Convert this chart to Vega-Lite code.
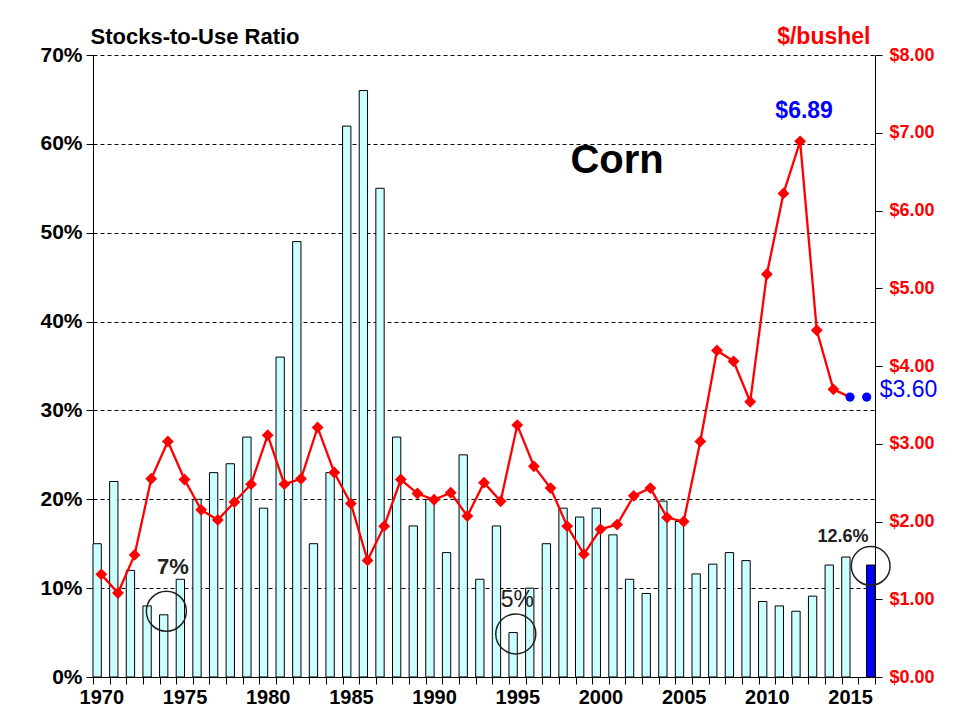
{
  "$schema": "https://vega.github.io/schema/vega-lite/v6.json",
  "width": 782,
  "height": 622,
  "autosize": {"type": "none"},
  "padding": {"left": 93, "top": 55, "right": 86, "bottom": 50},
  "background": "white",
  "config": {"font": "Liberation Sans", "view": {"stroke": null}},
  "datasets": {
    "corn": [
      {"year": 1970, "stu": 15, "price": 1.32},
      {"year": 1971, "stu": 22, "price": 1.08},
      {"year": 1972, "stu": 12, "price": 1.57},
      {"year": 1973, "stu": 8, "price": 2.55},
      {"year": 1974, "stu": 7, "price": 3.03},
      {"year": 1975, "stu": 11, "price": 2.54},
      {"year": 1976, "stu": 20, "price": 2.15},
      {"year": 1977, "stu": 23, "price": 2.02},
      {"year": 1978, "stu": 24, "price": 2.25},
      {"year": 1979, "stu": 27, "price": 2.48},
      {"year": 1980, "stu": 19, "price": 3.11},
      {"year": 1981, "stu": 36, "price": 2.48},
      {"year": 1982, "stu": 49, "price": 2.55},
      {"year": 1983, "stu": 15, "price": 3.21},
      {"year": 1984, "stu": 23, "price": 2.63},
      {"year": 1985, "stu": 62, "price": 2.23},
      {"year": 1986, "stu": 66, "price": 1.5},
      {"year": 1987, "stu": 55, "price": 1.94},
      {"year": 1988, "stu": 27, "price": 2.54},
      {"year": 1989, "stu": 17, "price": 2.36},
      {"year": 1990, "stu": 20, "price": 2.28},
      {"year": 1991, "stu": 14, "price": 2.37},
      {"year": 1992, "stu": 25, "price": 2.07},
      {"year": 1993, "stu": 11, "price": 2.5},
      {"year": 1994, "stu": 17, "price": 2.26},
      {"year": 1995, "stu": 5, "price": 3.24},
      {"year": 1996, "stu": 10, "price": 2.71},
      {"year": 1997, "stu": 15, "price": 2.43},
      {"year": 1998, "stu": 19, "price": 1.94},
      {"year": 1999, "stu": 18, "price": 1.58},
      {"year": 2000, "stu": 19, "price": 1.9},
      {"year": 2001, "stu": 16, "price": 1.96},
      {"year": 2002, "stu": 11, "price": 2.33},
      {"year": 2003, "stu": 9.4, "price": 2.43},
      {"year": 2004, "stu": 19.8, "price": 2.05},
      {"year": 2005, "stu": 17.5, "price": 2.0},
      {"year": 2006, "stu": 11.6, "price": 3.03},
      {"year": 2007, "stu": 12.7, "price": 4.2},
      {"year": 2008, "stu": 14.0, "price": 4.06},
      {"year": 2009, "stu": 13.1, "price": 3.54},
      {"year": 2010, "stu": 8.5, "price": 5.18},
      {"year": 2011, "stu": 8.0, "price": 6.22},
      {"year": 2012, "stu": 7.4, "price": 6.89},
      {"year": 2013, "stu": 9.1, "price": 4.46},
      {"year": 2014, "stu": 12.6, "price": 3.7},
      {"year": 2015, "stu": 13.5, "price": 3.6},
      {"year": 2016, "stu": 12.6, "price": 3.6}
    ],
    "rings": [
      {"year": 1974, "stu": 7.4},
      {"year": 1995, "stu": 4.85},
      {"year": 2016, "stu": 12.5}
    ],
    "notes": [
      {"year": 2001, "stu": 58.1, "label": "Corn"},
      {"year": 2012, "stu": 63.7, "label": "$6.89"},
      {"year": 2016, "stu": 32.3, "label": "$3.60"},
      {"year": 1974, "stu": 12.35, "label": "7%"},
      {"year": 1995, "stu": 8.67, "label": "5%"},
      {"year": 2015, "stu": 15.8, "label": "12.6%"}
    ]
  },
  "layer": [
    {
      "layer": [
        {
          "data": {"name": "corn"},
          "transform": [{"filter": "datum.year < 2016"}],
          "mark": {"type": "bar", "width": {"band": 0.5}, "xOffset": -4.16, "fill": "#ccffff", "stroke": "black", "strokeWidth": 1},
          "encoding": {
            "x": {
              "field": "year", "type": "ordinal",
              "scale": {"paddingInner": 0, "paddingOuter": 0},
              "axis": {
                "title": null,
                "labelExpr": "datum.value % 5 == 0 ? datum.value : ''",
                "labelAngle": 0,
                "labelFont": "Liberation Sans",
                "labelFontSize": 20,
                "labelFontWeight": "bold",
                "labelColor": "black",
                "labelOverlap": false,
                "labelPadding": 3,
                "tickBand": "extent",
                "tickSize": 7,
                "tickColor": "black",
                "domainColor": "black",
                "grid": false
              }
            },
            "y": {
              "field": "stu", "type": "quantitative",
              "scale": {"domain": [0, 70], "nice": false},
              "axis": {
                "values": [0, 10, 20, 30, 40, 50, 60, 70],
                "labelExpr": "datum.value + '%'",
                "labelFont": "Liberation Sans",
                "labelFontSize": 21,
                "labelFontWeight": "bold",
                "labelColor": "black",
                "labelPadding": 4,
                "tickSize": 7,
                "tickColor": "black",
                "domainColor": "black",
                "grid": true,
                "gridColor": "black",
                "gridDash": [4, 3],
                "gridWidth": 1,
                "title": "Stocks-to-Use Ratio",
                "titleAngle": 0,
                "titleAlign": "left",
                "titleBaseline": "alphabetic",
                "titleX": -3,
                "titleY": -12,
                "titleFont": "Liberation Sans",
                "titleFontSize": 22,
                "titleFontWeight": "bold",
                "titleColor": "black"
              }
            }
          }
        },
        {
          "data": {"name": "corn"},
          "transform": [{"filter": "datum.year == 2016"}],
          "mark": {"type": "bar", "width": {"band": 0.5}, "xOffset": 4, "fill": "#0000ff", "stroke": "black", "strokeWidth": 1},
          "encoding": {
            "x": {"field": "year", "type": "ordinal"},
            "y": {"field": "stu", "type": "quantitative"}
          }
        },
        {
          "data": {"name": "rings"},
          "transform": [{"filter": "datum.year < 2016"}],
          "mark": {"type": "point", "shape": "circle", "size": 1600, "filled": false, "stroke": "#222222", "strokeWidth": 1.5, "xOffset": -1.5, "opacity": 1},
          "encoding": {
            "x": {"field": "year", "type": "ordinal"},
            "y": {"field": "stu", "type": "quantitative"}
          }
        },
        {
          "data": {"name": "rings"},
          "transform": [{"filter": "datum.year == 2016"}],
          "mark": {"type": "point", "shape": "circle", "size": 1500, "filled": false, "stroke": "#222222", "strokeWidth": 1.5, "xOffset": 4, "opacity": 1},
          "encoding": {
            "x": {"field": "year", "type": "ordinal"},
            "y": {"field": "stu", "type": "quantitative"}
          }
        },
        {
          "data": {"name": "notes"},
          "transform": [{"filter": "datum.label == 'Corn'"}],
          "mark": {"type": "text", "font": "Liberation Sans", "fontSize": 40, "fontWeight": "bold", "color": "black", "align": "center", "baseline": "middle"},
          "encoding": {
            "x": {"field": "year", "type": "ordinal"},
            "y": {"field": "stu", "type": "quantitative"},
            "text": {"field": "label"}
          }
        },
        {
          "data": {"name": "notes"},
          "transform": [{"filter": "datum.label == '$6.89'"}],
          "mark": {"type": "text", "font": "Liberation Sans", "fontSize": 23, "fontWeight": "bold", "color": "#0000ff", "align": "center", "baseline": "middle", "dx": 4},
          "encoding": {
            "x": {"field": "year", "type": "ordinal"},
            "y": {"field": "stu", "type": "quantitative"},
            "text": {"field": "label"}
          }
        },
        {
          "data": {"name": "notes"},
          "transform": [{"filter": "datum.label == '$3.60'"}],
          "mark": {"type": "text", "font": "Liberation Sans", "fontSize": 23, "fontWeight": "normal", "color": "#0000ff", "align": "left", "baseline": "middle", "dx": 13},
          "encoding": {
            "x": {"field": "year", "type": "ordinal"},
            "y": {"field": "stu", "type": "quantitative"},
            "text": {"field": "label"}
          }
        },
        {
          "data": {"name": "notes"},
          "transform": [{"filter": "datum.label == '7%'"}],
          "mark": {"type": "text", "font": "Liberation Sans", "fontSize": 22, "fontWeight": "bold", "color": "#222222", "align": "center", "baseline": "middle", "dx": 5},
          "encoding": {
            "x": {"field": "year", "type": "ordinal"},
            "y": {"field": "stu", "type": "quantitative"},
            "text": {"field": "label"}
          }
        },
        {
          "data": {"name": "notes"},
          "transform": [{"filter": "datum.label == '5%'"}],
          "mark": {"type": "text", "font": "Liberation Sans", "fontSize": 23, "fontWeight": "normal", "color": "#222222", "align": "center", "baseline": "middle"},
          "encoding": {
            "x": {"field": "year", "type": "ordinal"},
            "y": {"field": "stu", "type": "quantitative"},
            "text": {"field": "label"}
          }
        },
        {
          "data": {"name": "notes"},
          "transform": [{"filter": "datum.label == '12.6%'"}],
          "mark": {"type": "text", "font": "Liberation Sans", "fontSize": 18, "fontWeight": "bold", "color": "#222222", "align": "center", "baseline": "middle", "dx": -7},
          "encoding": {
            "x": {"field": "year", "type": "ordinal"},
            "y": {"field": "stu", "type": "quantitative"},
            "text": {"field": "label"}
          }
        }
      ]
    },
    {
      "layer": [
        {
          "data": {"name": "corn"},
          "transform": [{"filter": "datum.year <= 2015"}],
          "mark": {"type": "line", "color": "#ff0000", "strokeWidth": 2.3},
          "encoding": {
            "x": {"field": "year", "type": "ordinal"},
            "y": {
              "field": "price", "type": "quantitative",
              "scale": {"domain": [0, 8], "nice": false},
              "axis": {
                "orient": "right",
                "values": [0, 1, 2, 3, 4, 5, 6, 7, 8],
                "format": "$.2f",
                "labelFont": "Liberation Sans",
                "labelFontSize": 18,
                "labelFontWeight": "bold",
                "labelColor": "#ff0000",
                "labelPadding": 7,
                "tickSize": 7,
                "tickColor": "black",
                "domainColor": "black",
                "grid": false,
                "title": "$/bushel",
                "titleAngle": 0,
                "titleAlign": "right",
                "titleBaseline": "alphabetic",
                "titleX": -5,
                "titleY": -12,
                "titleFont": "Liberation Sans",
                "titleFontSize": 23,
                "titleFontWeight": "bold",
                "titleColor": "#ff0000"
              }
            }
          }
        },
        {
          "data": {"name": "corn"},
          "transform": [{"filter": "datum.year <= 2014"}],
          "mark": {"type": "point", "shape": "diamond", "filled": true, "size": 140, "color": "#ff0000", "opacity": 1},
          "encoding": {
            "x": {"field": "year", "type": "ordinal"},
            "y": {"field": "price", "type": "quantitative"}
          }
        },
        {
          "data": {"name": "corn"},
          "transform": [{"filter": "datum.year >= 2015"}],
          "mark": {"type": "point", "shape": "circle", "filled": true, "size": 85, "color": "#0000ff", "opacity": 1},
          "encoding": {
            "x": {"field": "year", "type": "ordinal"},
            "y": {"field": "price", "type": "quantitative"}
          }
        }
      ]
    }
  ],
  "resolve": {"scale": {"y": "independent"}, "axis": {"y": "independent"}}
}
